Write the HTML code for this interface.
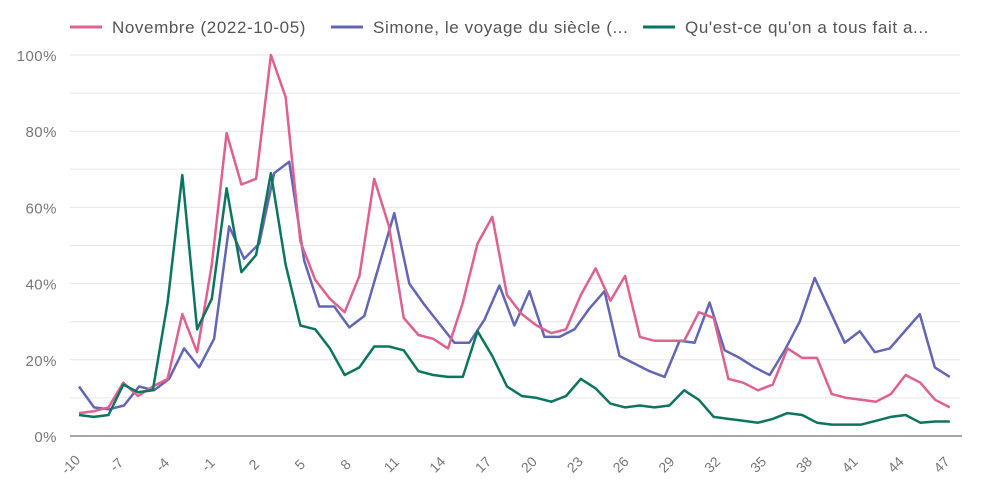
<!DOCTYPE html>
<html><head><meta charset="utf-8"><style>
body{margin:0;background:#fff}
svg{display:block;font-family:"Liberation Sans",sans-serif}
</style></head><body>
<svg id="c" width="987" height="503" xmlns="http://www.w3.org/2000/svg"></svg>
<script>
const s=document.getElementById('c');let h='';
const Y=v=>436-v*3.81, X=i=>79+i*14.76;
for(let v=10;v<=100;v+=10)h+=`<line x1="70" x2="960" y1="${Y(v)}" y2="${Y(v)}" stroke="#e6e6e6" stroke-width="1"/>`;
h+=`<line x1="70" x2="962" y1="436" y2="436" stroke="#888" stroke-width="1.5"/>`;
for(let v=0;v<=100;v+=20)h+=`<text x="57" y="${Y(v)+6}" text-anchor="end" font-size="15" fill="#777" letter-spacing="0.5">${v}%</text>`;
for(let k=0;k<20;k++){const w=-10+3*k,x=79+3*k*15.28-5;h+=`<text transform="translate(${x},468) rotate(-45)" text-anchor="middle" font-size="14" fill="#777">${w}</text>`;}
const P=[6,6.5,7.5,14,10.5,13,15,32,22,45,79.5,66,67.5,100,89,51,41,36,32.5,42,67.5,55,31,26.5,25.5,23,35,50.5,57.5,37,32,29,27,28,37,44,35.5,42,26,25,25,25,32.5,31,15,14,12,13.5,23,20.5,20.5,11,10,9.5,9,11,16,14,9.5,7.5];
const B=[13,7.5,7,8,13,12,15,23,18,25.5,55,46.5,50.5,69,72,46,34,34,28.5,31.5,45,58.5,40,34.5,29.5,24.5,24.5,30.5,39.5,29,38,26,26,28,33.5,38,21,19,17,15.5,25,24.5,35,22.5,20.5,18,16,22.5,30,41.5,33,24.5,27.5,22,23,27.5,32,18,15.5];
const G=[5.5,5,5.5,13.5,11.5,12,35,68.5,28,36,65,43,47.5,69,45,29,28,23,16,18,23.5,23.5,22.5,17,16,15.5,15.5,27.5,21,13,10.5,10,9,10.5,15,12.5,8.5,7.5,8,7.5,8,12,9.5,5,4.5,4,3.5,4.5,6,5.5,3.5,3,3,3,4,5,5.5,3.5,3.8,3.8];
function line(a,c){const n=a.length,sc=59/(n-1);h+=`<polyline fill="none" stroke="${c}" stroke-width="2.5" stroke-linejoin="round" points="${a.map((v,i)=>X(i*sc).toFixed(1)+','+Y(v).toFixed(1)).join(' ')}"/>`;}
line(B,'#6266b5');line(P,'#e0608f');line(G,'#0b7560');
const L=[[70,'#e0608f','Novembre (2022-10-05)'],[331,'#6266b5','Simone, le voyage du siècle (...'],[643,'#0b7560',"Qu'est-ce qu'on a tous fait a..."]];
for(const [x,c,t] of L){h+=`<line x1="${x}" x2="${x+32}" y1="27" y2="27" stroke="${c}" stroke-width="3"/><text x="${x+42}" y="33" font-size="17" fill="#555" letter-spacing="0.6">${t}</text>`;}
s.innerHTML=h;
</script>
</body></html>
